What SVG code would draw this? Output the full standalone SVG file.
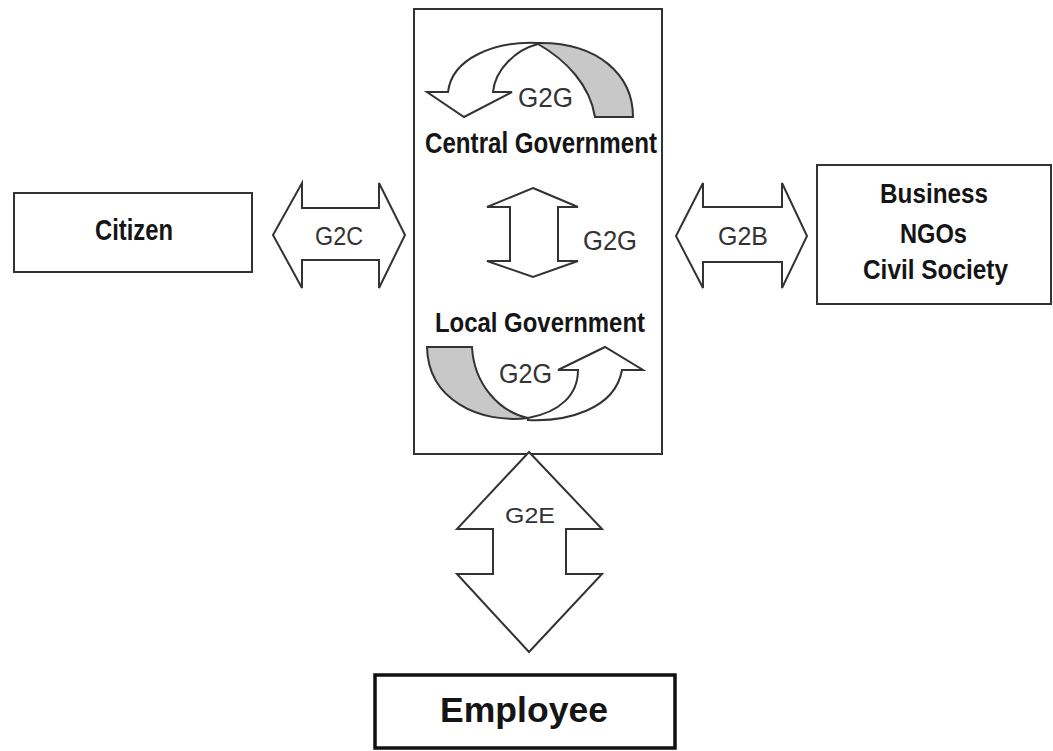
<svg xmlns="http://www.w3.org/2000/svg" width="1053" height="751" viewBox="0 0 1053 751">
<style>
.box{fill:#fff;stroke:#333;stroke-width:2}
.arrow{fill:#fff;stroke:#333;stroke-width:2;stroke-linejoin:miter}
.back{fill:#c8c8c8;stroke:#333;stroke-width:2}
.bold{font-family:"Liberation Sans",Arial,sans-serif;font-weight:bold;fill:#151515;text-anchor:middle}
.lab{font-family:"Liberation Sans",Arial,sans-serif;fill:#333;text-anchor:middle}
</style>
<rect width="1053" height="751" fill="#fff"/>
<g id="government">
<rect class="box" x="414" y="9" width="248" height="445"/>
<text class="bold" x="541" y="153" font-size="29" textLength="232" lengthAdjust="spacingAndGlyphs">Central Government</text>
<text class="bold" x="540" y="332" font-size="27" textLength="210" lengthAdjust="spacingAndGlyphs">Local Government</text>
</g>
<g id="citizen">
<rect class="box" x="14" y="193" width="238" height="79"/>
<text class="bold" x="134" y="240" font-size="30" textLength="78" lengthAdjust="spacingAndGlyphs">Citizen</text>
</g>
<g id="business">
<rect class="box" x="817" y="165" width="234" height="139"/>
<text class="bold" x="934" y="203" font-size="28" textLength="108" lengthAdjust="spacingAndGlyphs">Business</text>
<text class="bold" x="933.5" y="243" font-size="28" textLength="67" lengthAdjust="spacingAndGlyphs">NGOs</text>
<text class="bold" x="935.5" y="279" font-size="28" textLength="145" lengthAdjust="spacingAndGlyphs">Civil Society</text>
</g>
<g id="employee">
<rect x="375" y="675" width="300" height="73" fill="#fff" stroke="#111" stroke-width="3.5"/>
<text class="bold" x="524" y="722" font-size="35" textLength="168" lengthAdjust="spacingAndGlyphs">Employee</text>
</g>
<g id="connectors">
<g id="g2c">
<polygon class="arrow" points="273,235 302,183 302,208 379,208 379,183 405,235 379,288 379,260 302,260 302,288"/>
<text class="lab" x="339" y="245" font-size="26" textLength="48" lengthAdjust="spacingAndGlyphs">G2C</text>
</g>
<g id="g2b">
<polygon class="arrow" points="676,236 703,183 703,207 782,207 782,183 807,236 782,288 782,262 703,262 703,288"/>
<text class="lab" x="743" y="245" font-size="26" textLength="50" lengthAdjust="spacingAndGlyphs">G2B</text>
</g>
<g id="g2e">
<polygon class="arrow" points="529,452 602,529 566,529 566,574 602,574 529,652 457,574 493,574 493,529 457,529"/>
<text class="lab" x="530" y="523" font-size="22" textLength="50" lengthAdjust="spacingAndGlyphs">G2E</text>
</g>
<g id="g2g-mid">
<polygon class="arrow" points="533,188 578,207 558,207 558,261 578,261 533,277 487,261 510,261 510,207 487,207"/>
<text class="lab" x="610" y="250" font-size="27" textLength="54" lengthAdjust="spacingAndGlyphs">G2G</text>
</g>
<g id="g2g-top">
<path class="back" d="M538,44 C566,60 590,85 595,117 L633,117 C633,75 598,42 538,43 Z"/>
<path class="arrow" d="M538,43 C495,41 452,58 448,92 L427,92 L464,117 L512,92 L493,92 C495,70 515,50 538,44 Z"/>
<text class="lab" x="545.5" y="107" font-size="27" textLength="55" lengthAdjust="spacingAndGlyphs">G2G</text>
</g>
<g id="g2g-bottom">
<path class="back" d="M427,347 L472,347 C474,385 500,412 528,418 C480,424 428,400 427,347 Z"/>
<path class="arrow" d="M528,420 C565,422 615,410 622,370 L643,370 L605,347 L558,370 L578,370 C578,395 560,412 528,418 Z"/>
<text class="lab" x="525.5" y="383" font-size="27" textLength="53" lengthAdjust="spacingAndGlyphs">G2G</text>
</g>
</g>
</svg>
